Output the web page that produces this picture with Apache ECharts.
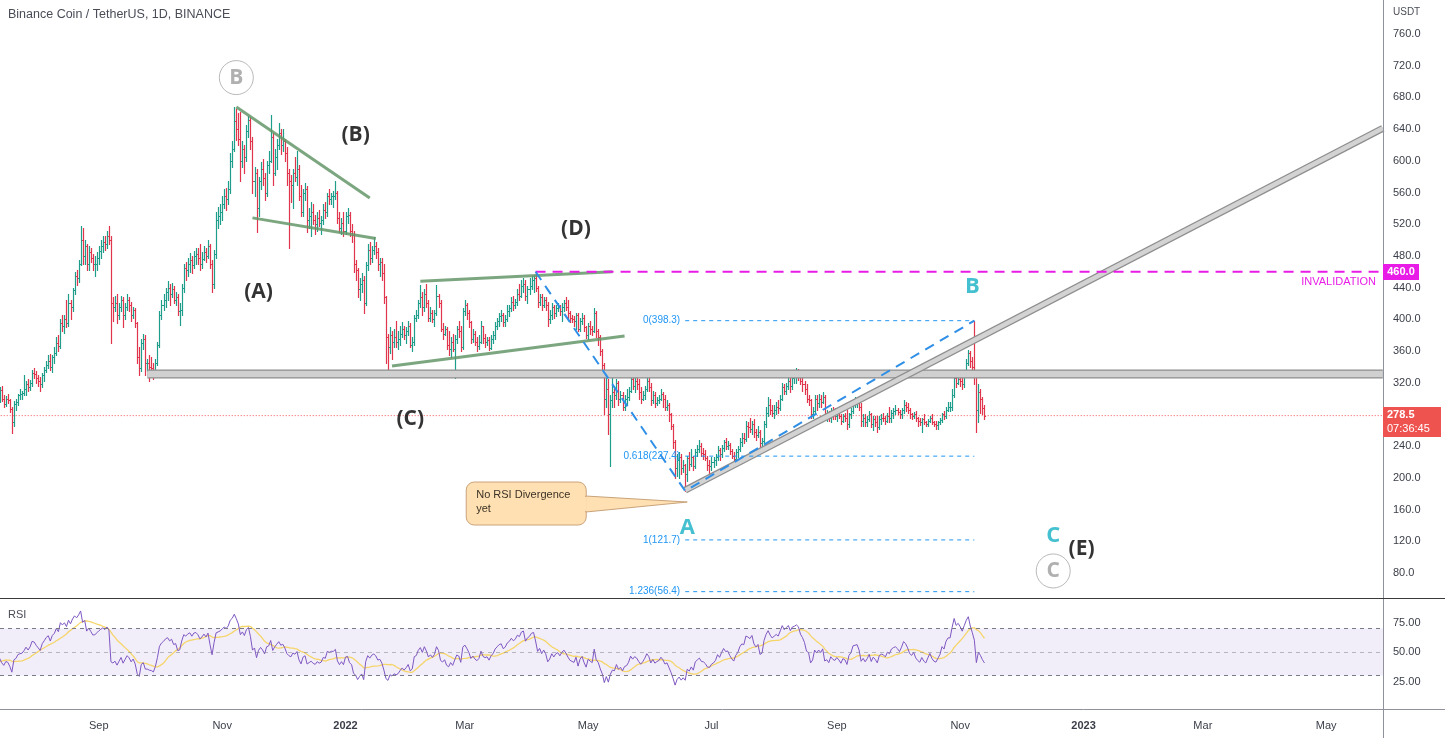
<!DOCTYPE html>
<html><head><meta charset="utf-8">
<script src="https://cdn.jsdelivr.net/npm/echarts@6/dist/echarts.min.js"></script>
<style>html,body{margin:0;padding:0;background:#fff}#c{width:1445px;height:738px}</style>
</head><body><div id="c"></div>
<script>
// ---------------- DATA ----------------
const startDate = '2021-07-13';
// closes before the first visible bar (Jun 14 - Jul 12 2021), only used to warm up RSI
const warmupCloses = [365,360,342,345,325,330,335,272,278,290,300,285,280,300,292,300,302,
  290,288,298,312,305,320,325,308,320,318,320,308];
const firstOpen = 308;
const closes = [
  305,311,300,293,300,298,287,270,293,296,304,306,307,312,319,314,320,332,331, // Jul 13-31 2021
  326,322,318,330,336,343,347,340,352,357,370,366,395,392,400,395,420,415,437,455,452,470,500,480,492,470,485,478,470,470,478, // Aug
  486,492,498,495,505,500,420,415,420,405,415,425,405,415,425,418,405,412,395,352,338,370,375,345,345,340,338,332,345,368, // Sep
  405,418,425,435,440,432,438,425,428,410,412,440,465,462,470,475,468,480,482,478,470,476,485,480,492,470,445,482,525,530,535, // Oct
  545,555,552,565,600,615,650,640,628,600,615,605,638,652,625,575,585,540,575,590,578,560,595,600,630,585,605,620,635,620, // Nov
  625,610,585,575,570,585,580,590,555,535,560,565,525,530,535,525,520,528,522,525,538,535,555,552,555,555,560,528,515,522,512, // Dec
  530,532,512,506,470,462,438,445,450,420,468,488,478,488,492,485,470,472,458,428,378,365,380,372,378,372,375,382,388,380,385, // Jan 2022
  392,368,372,402,405,420,428,415,432,420,402,408,400,408,430,420,388,382,388,368,362,372,362,375,388,385,365,410, // Feb
  418,408,396,375,382,372,366,372,392,376,372,374,364,375,380,392,398,404,406,396,400,410,414,422,418,422,432,430,442,445,430, // Mar
  438,442,450,452,440,422,428,418,425,418,400,405,415,408,414,416,410,416,420,415,408,402,400,398,405,388,398,402,390,380, // Apr
  392,388,385,408,385,378,360,342,300,312,280,298,308,305,320,300,305,290,300,302,310,325,316,322,318,308,300,305,312,322,315, // May
  298,305,295,298,300,306,300,290,292,280,266,245,212,222,226,212,216,205,225,218,226,215,232,236,240,231,230,225,216,215, // Jun
  220,222,226,235,230,238,245,240,241,234,228,224,232,236,245,250,249,265,264,262,268,258,254,258,244,246,268,282,292,286,282, // Jul
  286,290,288,300,315,310,316,322,316,326,328,332,330,322,318,312,300,298,280,284,300,295,300,296,302,280,282,276,285,280,278, // Aug
  282,278,272,278,276,268,280,284,295,296,297,290,272,276,270,274,280,268,274,270,264,274,276,275,272,278,276,282,284,285, // Sep
  283,280,285,292,290,286,280,278,281,275,272,270,274,270,268,272,276,271,268,267,270,273,280,278,286,290,290,305,326,320,325, // Oct
  322,318,330,345,358,348,340,330,285,308,300,288,278.5 // Nov 1-13
];
const highs = [
  318,315,316,305,303,306,300,290,297,300,306,312,310,330,322,325,324,336,338,
  335,330,327,332,340,348,355,356,355,365,378,380,400,405,405,425,432,425,440,460,462,475,518,515,500,495,492,490,483,480,485,
  492,500,505,505,512,518,505,428,430,432,420,430,428,420,432,428,422,415,414,396,365,375,382,380,350,355,352,345,350,372,
  410,425,432,440,448,445,446,442,435,432,420,445,470,472,478,484,480,486,490,490,495,485,492,490,500,495,475,488,535,542,545,
  555,565,566,575,610,625,668,666,660,662,625,620,645,657,655,630,592,590,580,598,602,585,600,612,658,635,615,628,648,640,
  640,628,618,590,582,590,605,612,595,570,565,572,568,540,548,545,532,535,538,530,545,548,560,565,560,562,575,562,535,528,535,
  535,540,535,520,512,475,465,452,458,455,472,495,498,492,504,498,490,478,478,470,430,382,390,385,388,398,385,392,396,392,390,
  398,395,378,405,412,425,443,435,438,445,425,415,412,412,443,432,424,395,392,390,385,378,382,380,392,398,392,414,
  425,420,412,398,388,385,378,380,398,392,382,378,378,380,385,396,402,408,412,408,406,418,418,428,430,426,438,445,450,452,450,
  442,452,455,456,460,442,432,432,428,428,422,412,420,418,418,420,418,420,425,428,425,410,405,404,408,408,402,408,405,392,
  395,398,392,414,410,388,380,362,345,335,325,305,328,312,325,322,310,308,305,312,314,332,336,328,330,325,315,310,316,332,328,
  320,310,308,302,305,312,308,304,298,295,282,268,248,230,232,230,222,218,228,232,236,228,236,242,248,244,238,235,228,222,
  226,226,230,240,238,242,248,250,246,244,236,232,236,240,250,256,256,272,270,275,272,274,262,265,260,250,272,290,302,300,292,
  292,296,298,304,320,318,320,330,326,332,336,338,337,334,330,322,318,305,300,290,304,304,306,304,308,304,286,284,288,290,288,
  285,288,280,280,282,286,282,288,298,302,300,302,294,280,280,278,284,282,278,278,278,278,280,282,278,282,290,286,288,292,
  288,285,288,298,296,294,288,282,283,284,277,275,276,280,272,274,278,280,272,272,272,276,282,284,290,296,296,312,330,332,336,
  330,332,335,350,361,360,352,398,335,318,312,302,292
];
const lows = [
  300,296,297,290,291,294,283,256,265,285,292,300,299,305,305,310,311,316,326,
  320,316,310,315,322,333,338,336,333,345,355,360,364,385,383,390,392,400,410,432,443,447,468,470,470,462,462,472,462,455,462,
  470,478,485,488,490,495,370,398,410,395,400,410,390,400,412,410,398,402,390,345,330,335,362,330,335,322,335,325,330,342,
  365,400,412,415,425,418,428,420,418,405,393,405,435,450,455,460,458,465,470,470,462,465,475,472,478,465,434,440,478,515,520,
  525,540,538,545,560,592,612,626,620,575,592,585,600,630,615,560,555,510,530,565,570,550,555,585,598,570,582,590,615,608,
  612,600,570,490,548,540,575,570,550,530,530,550,510,515,505,520,508,512,518,508,520,528,530,545,545,542,552,522,510,508,505,
  508,522,505,498,460,450,428,425,435,408,418,462,470,472,482,478,462,455,450,420,345,336,358,350,365,365,362,368,378,375,370,
  380,365,360,368,398,402,415,405,410,415,398,398,396,392,405,415,385,375,380,362,355,352,360,326,370,378,360,362,
  405,400,390,370,372,368,360,362,370,370,365,368,361,362,370,375,388,392,398,392,392,398,404,410,412,414,418,425,428,435,425,
  420,432,438,435,436,415,418,412,415,412,392,395,400,402,404,410,406,398,410,412,400,396,396,392,388,385,385,394,385,376,
  375,382,380,384,378,368,355,335,280,290,255,215,290,290,300,292,296,286,286,292,298,308,312,308,312,300,294,298,300,310,310,
  292,295,290,292,294,298,290,286,285,272,262,238,200,202,200,205,208,183.4,196,210,215,210,212,228,232,228,224,222,210,206,
  210,214,216,222,222,226,234,236,236,230,225,219,218,226,234,240,244,246,252,258,255,252,248,252,238,238,244,264,278,280,278,
  276,280,282,285,298,306,306,312,308,312,320,320,324,318,310,306,296,292,276,275,282,285,290,290,294,276,272,272,270,274,274,
  272,275,268,270,272,262,264,276,282,290,290,286,266,266,266,266,272,264,260,265,258,262,268,272,268,270,270,270,276,280,
  280,276,276,282,284,282,276,274,276,272,266,267,258,268,265,266,270,268,265,262,262,268,270,274,276,284,284,286,302,315,318,
  316,312,315,328,342,340,330,318,258,270,282,280,274
];
const monthTickDates = ['2021-09-01','2021-11-01','2022-01-01','2022-03-01','2022-05-01','2022-07-01',
  '2022-09-01','2022-11-01','2023-01-01','2023-03-01','2023-05-01'];
const monthTickLabels = ['Sep','Nov','2022','Mar','May','Jul','Sep','Nov','2023','Mar','May'];
const priceTicks = [80,120,160,200,240,280,320,360,400,440,480,520,560,600,640,680,720,760];
const rsiTicks = [25,50,75];
const lastPrice = 278.5;
const lastTime = '07:36:45';
const invalidationPrice = 460;
const fibLevels = [ {ratio:'0', price:398.3}, {ratio:'0.618', price:227.4}, {ratio:'1', price:121.7}, {ratio:'1.236', price:56.4} ];
const fibFrom = '2022-06-18', fibTo = '2022-11-08';
const fibPath = [['2022-04-05',460],['2022-06-18',183.4],['2022-11-08',398.3]];
const triangleLines = [
  [['2021-11-08',668],['2022-01-13',553]],
  [['2021-11-16',528],['2022-01-16',502]],
  [['2022-02-07',448],['2022-05-13',460]],
  [['2022-01-24',341],['2022-05-19',379]]
];
const supportBand = [['2021-09-25',331],['2023-05-29',331]];
const risingBand = [['2022-06-18',184.5],['2023-05-29',641]];
const waveLabels = [
  {text:'B',   at:['2021-11-08',705], kind:'circle'},
  {text:'(B)', at:['2022-01-06',633], kind:'wave'},
  {text:'(A)', at:['2021-11-19',434], kind:'wave'},
  {text:'(C)', at:['2022-02-02',274], kind:'wave'},
  {text:'(D)', at:['2022-04-25',514], kind:'wave'},
  {text:'A',   at:['2022-06-19',137], kind:'teal'},
  {text:'B',   at:['2022-11-07',441], kind:'teal'},
  {text:'C',   at:['2022-12-17',127], kind:'teal'},
  {text:'(E)', at:['2022-12-31',110], kind:'wave'},
  {text:'C',   at:['2022-12-17',82.5], kind:'circle'}
];
const calloutText = ['No RSI Divergence','yet'];
const calloutTip = ['2022-06-19',169.5];

// ---------------- HELPERS ----------------
const DAY = 86400000;
const T0 = (function(){const [y,m,d]=startDate.split('-').map(Number);return Date.UTC(y,m-1,d);})();
function dayIdx(s){const [y,m,d]=s.split('-').map(Number);return Math.round((Date.UTC(y,m-1,d)-T0)/DAY);}
const X_MIN = 1.13, X_MAX = 685.1;
const UP = '#1E9E8A', DOWN = '#E0354C';
const FONT = 'Liberation Sans, Arial, sans-serif';

const rows = [];
let prev = firstOpen;
for (let k = 0; k < closes.length; k++) {
  const o = prev, c = closes[k];
  rows.push([k, o, Math.max(highs[k], o, c), Math.min(lows[k], o, c), c]);
  prev = c;
}
// RSI(14) + SMA(14) of RSI from the closes above
const all = warmupCloses.concat(closes), off = warmupCloses.length;
let ag = 0, al = 0; const rsi = [];
for (let k = 1; k < all.length; k++) {
  const ch = all[k] - all[k-1], g = Math.max(ch, 0), lo = Math.max(-ch, 0);
  if (k <= 14) { ag += g/14; al += lo/14; if (k === 14) rsi.push([k-off, 100 - 100/(1+ag/al)]); }
  else { ag = (ag*13+g)/14; al = (al*13+lo)/14; rsi.push([k-off, al === 0 ? 100 : 100 - 100/(1+ag/al)]); }
}
const rsiMa = [];
for (let j = 13; j < rsi.length; j++) { let s = 0; for (let q = j-13; q <= j; q++) s += rsi[q][1]; rsiMa.push([rsi[j][0], s/14]); }

const monthTicks = monthTickDates.map(dayIdx);

function seg(points, style, z) {
  return {type:'line', xAxisIndex:0, yAxisIndex:0, data: points.map(p => [dayIdx(p[0]), p[1]]),
    symbol:'none', silent:true, clip:true, lineStyle:style, z: z || 3, animation:false};
}

function renderBar(params, api) {
  const i = api.value(0), o = api.value(1), h = api.value(2), l = api.value(3), c = api.value(4);
  const pH = api.coord([i, h]), pL = api.coord([i, l]), pO = api.coord([i, o]), pC = api.coord([i, c]);
  const x = Math.round(pH[0]) + 0.5;
  const col = c >= o ? UP : DOWN;
  const yo = Math.round(pO[1]) + 0.5, yc = Math.round(pC[1]) + 0.5;
  return {type:'group', children:[
    {type:'line', shape:{x1:x, y1:Math.round(pH[1]), x2:x, y2:Math.round(pL[1])+1}, style:{stroke:col, lineWidth:1.2}},
    {type:'line', shape:{x1:x-1.6, y1:yo, x2:x, y2:yo}, style:{stroke:col, lineWidth:1}},
    {type:'line', shape:{x1:x, y1:yc, x2:x+1.6, y2:yc}, style:{stroke:col, lineWidth:1}}
  ]};
}

const labelItems = waveLabels.map(w => {
  const base = {value:[dayIdx(w.at[0]), w.at[1]]};
  if (w.kind === 'circle') {
    base.symbol = 'circle'; base.symbolSize = 34;
    base.itemStyle = {color:'#fff', borderColor:'#A8A8A8', borderWidth:1};
    base.label = {show:true, position:'inside', formatter:w.text, color:'#9C9C9C', fontSize:21, fontFamily:'Open Sans', fontWeight:'bold'};
  } else {
    base.symbol = 'circle'; base.symbolSize = 1; base.itemStyle = {color:'rgba(0,0,0,0)'};
    base.label = {show:true, position:'inside', formatter:w.text,
      color: w.kind === 'teal' ? '#17B0C4' : '#000000', fontSize: w.kind === 'teal' ? 22 : 21,
      fontFamily:'Open Sans', fontWeight:'bold'};
  }
  return base;
});

const chart = echarts.init(document.getElementById('c'), null, {renderer:'canvas'});
const option = {
  animation:false,
  backgroundColor:'#fff',
  grid:[
    {left:0, top:0, width:1383, height:598},
    {left:0, top:598, width:1383, height:111}
  ],
  xAxis:[
    {type:'value', gridIndex:0, min:X_MIN, max:X_MAX, axisLine:{show:false}, axisTick:{show:false}, axisLabel:{show:false}, splitLine:{show:false}},
    {type:'value', gridIndex:1, min:X_MIN, max:X_MAX, axisLine:{show:false}, axisTick:{show:false}, splitLine:{show:false},
      axisLabel:{customValues:monthTicks, margin:11, color:'#3A3E48', fontSize:11, fontFamily:FONT,
        formatter: v => { const k = monthTicks.indexOf(Math.round(v)); const t = k >= 0 ? monthTickLabels[k] : '';
          return /^\d{4}$/.test(t) ? '{y|' + t + '}' : t; },
        rich:{y:{fontWeight:'bold', fontSize:11, color:'#3A3E48', fontFamily:FONT}}}}
  ],
  yAxis:[
    {type:'value', gridIndex:0, position:'right', min:48.4, max:802.9, axisLine:{show:false}, axisTick:{show:false}, splitLine:{show:false},
      axisLabel:{customValues:priceTicks, margin:10, color:'#3A3E48', fontSize:11, fontFamily:FONT, formatter: v => v.toFixed(1)}},
    {type:'value', gridIndex:1, position:'right', min:1.7, max:95.8, axisLine:{show:false}, axisTick:{show:false}, splitLine:{show:false},
      axisLabel:{customValues:rsiTicks, margin:10, color:'#3A3E48', fontSize:11, fontFamily:FONT, formatter: v => v.toFixed(2)}}
  ],
  series:[
    {type:'custom', name:'BNBUSDT', xAxisIndex:0, yAxisIndex:0, data:rows, renderItem:renderBar, clip:true, encode:{x:0, y:[1,2,3,4]}, z:2, silent:true},
    seg([[startDate, lastPrice], ['2023-07-01', lastPrice]], {color:'#EF5350', width:1, type:[1,2]}, 1),
    seg(supportBand, {color:'#8E8E8E', width:9}, 3),
    seg(supportBand, {color:'#D0D0D0', width:6.5}, 3),
    seg(risingBand, {color:'#8E8E8E', width:7}, 4),
    seg(risingBand, {color:'#D3D3D3', width:4.5}, 4),
    ...triangleLines.map(l => seg(l, {color:'rgba(100,150,104,0.85)', width:3}, 5)),
    seg([[fibPath[0][0], invalidationPrice], ['2023-07-01', invalidationPrice]], {color:'#E81CE6', width:2, type:[10,7]}, 5),
    seg(fibPath, {color:'#2F8FE6', width:2, type:[10,7]}, 6),
    ...fibLevels.map(f => seg([[fibFrom, f.price], [fibTo, f.price]], {color:'#2196F3', width:1, type:[4,4]}, 5)),
    {type:'scatter', xAxisIndex:0, yAxisIndex:0, data:labelItems, silent:true, z:10, animation:false},
    {type:'line', xAxisIndex:1, yAxisIndex:1, data:rsiMa, symbol:'none', silent:true, lineStyle:{color:'#F5D56A', width:1.3}, z:3},
    {type:'line', xAxisIndex:1, yAxisIndex:1, data:rsi, symbol:'none', silent:true, lineStyle:{color:'#7E57C2', width:1}, z:4,
      markArea:{silent:true, itemStyle:{color:'rgba(126,87,194,0.10)'}, data:[[{yAxis:30},{yAxis:70}]]},
      markLine:{silent:true, symbol:'none', label:{show:false},
        data:[{yAxis:70, lineStyle:{color:'#787B86', type:[4,4], width:1}},
              {yAxis:50, lineStyle:{color:'rgba(120,123,134,0.5)', type:[4,4], width:1}},
              {yAxis:30, lineStyle:{color:'#787B86', type:[4,4], width:1}}]}}
  ]
};
chart.setOption(option);

// ---------------- OVERLAYS ----------------
const px = (d, p) => chart.convertToPixel({xAxisIndex:0, yAxisIndex:0}, [typeof d === 'string' ? dayIdx(d) : d, p]);
const g = [];
g.push({type:'line', shape:{x1:1383.5, y1:0, x2:1383.5, y2:738}, style:{stroke:'#8F929B', lineWidth:1}, z:50});
g.push({type:'line', shape:{x1:0, y1:598.5, x2:1445, y2:598.5}, style:{stroke:'#3A3A3A', lineWidth:1.2}, z:50});
g.push({type:'line', shape:{x1:0, y1:709.5, x2:1445, y2:709.5}, style:{stroke:'#8F929B', lineWidth:1}, z:50});
g.push({type:'text', left:8, top:8, style:{text:'Binance Coin / TetherUS, 1D, BINANCE', fill:'#4A4D57', font:'12.5px ' + FONT}, z:60});
g.push({type:'text', left:8, top:609, style:{text:'RSI', fill:'#4A4D57', font:'11px ' + FONT}, z:60});
g.push({type:'text', left:1393, top:7, style:{text:'USDT', fill:'#4A4D57', font:'10px ' + FONT}, z:60});
fibLevels.forEach(f => {
  const p = px(fibFrom, f.price);
  g.push({type:'text', x:p[0]-5, y:p[1], style:{text:f.ratio + '(' + f.price + ')', fill:'#2196F3', font:'10px ' + FONT, align:'right', verticalAlign:'middle'}, z:30});
});
const pInv = px(X_MAX, invalidationPrice);
g.push({type:'text', x:1376, y:pInv[1]+10, style:{text:'INVALIDATION', fill:'#E81CE6', font:'11px ' + FONT, align:'right', verticalAlign:'middle'}, z:30});
g.push({type:'rect', shape:{x:1383, y:Math.round(pInv[1])-8, width:36, height:16}, style:{fill:'#E81CE6'}, z:60});
g.push({type:'text', x:1401, y:pInv[1], style:{text:invalidationPrice.toFixed(1), fill:'#fff', font:'bold 11px ' + FONT, align:'center', verticalAlign:'middle'}, z:61});
const pLast = px(X_MAX, lastPrice);
g.push({type:'rect', shape:{x:1383, y:Math.round(pLast[1])-9, width:58, height:30}, style:{fill:'#EF5350'}, z:60});
g.push({type:'text', x:1387, y:pLast[1]-1, style:{text:lastPrice.toFixed(1), fill:'#fff', font:'bold 11px ' + FONT, verticalAlign:'middle'}, z:61});
g.push({type:'text', x:1387, y:pLast[1]+13, style:{text:lastTime, fill:'#fff', font:'11px ' + FONT, verticalAlign:'middle'}, z:61});
const tip = px(calloutTip[0], calloutTip[1]);
const bx = tip[0]-221, by = tip[1]-20, bw = 120, bh = 43;
g.push({type:'rect', shape:{x:bx, y:by, width:bw, height:bh, r:8}, style:{fill:'#FFE0B2', stroke:'#C9A37A', lineWidth:1}, z:40});
g.push({type:'polygon', shape:{points:[[bx+bw-0.5, tip[1]-6],[tip[0], tip[1]],[bx+bw-0.5, tip[1]+10]]}, style:{fill:'#FFE0B2', stroke:'#C9A37A', lineWidth:1}, z:41});
g.push({type:'line', shape:{x1:bx+bw-0.5, y1:tip[1]-5, x2:bx+bw-0.5, y2:tip[1]+9}, style:{stroke:'#FFE0B2', lineWidth:2}, z:42});
g.push({type:'text', x:bx+10, y:by+13, style:{text:calloutText[0], fill:'#3B3226', font:'11px ' + FONT, verticalAlign:'middle'}, z:43});
g.push({type:'text', x:bx+10, y:by+27, style:{text:calloutText[1], fill:'#3B3226', font:'11px ' + FONT, verticalAlign:'middle'}, z:43});
chart.setOption({graphic:g});
</script>
</body></html>
